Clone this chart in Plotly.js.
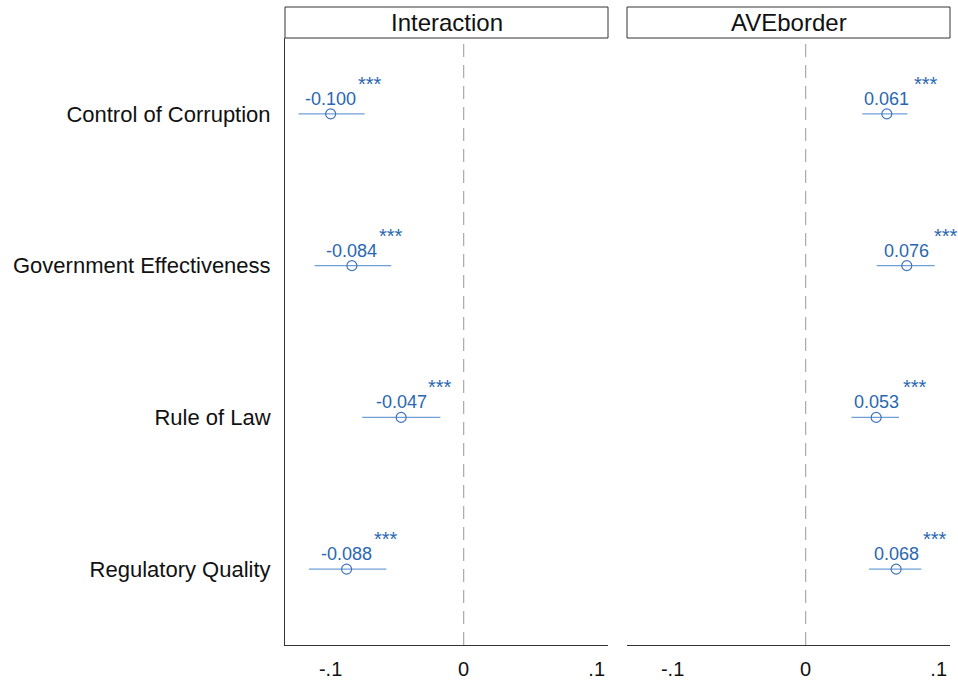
<!DOCTYPE html>
<html>
<head>
<meta charset="utf-8">
<script src="https://cdn.plot.ly/plotly-3.0.1.min.js"></script>
<style>html,body{margin:0;padding:0;background:#fff;}#chart{width:958px;height:681px;}</style>
</head>
<body>
<div id="chart"></div>
<script>
// Data
const categories = ["Control of Corruption", "Government Effectiveness", "Rule of Law", "Regulatory Quality"];
const panels = ["Interaction", "AVEborder"];
const interCoef = [-0.100, -0.084, -0.047, -0.088];
const interLo = [-0.1241, -0.1120, -0.0762, -0.1163];
const interHi = [-0.0744, -0.0544, -0.0175, -0.0581];
const aveCoef = [0.061, 0.076, 0.053, 0.068];
const aveLo = [0.0426, 0.0534, 0.0344, 0.0476];
const aveHi = [0.0765, 0.0970, 0.0702, 0.0870];
const stars = ["***", "***", "***", "***"];
const xTickVals = [-0.1, 0, 0.1];
const xTickText = ["-.1", "0", ".1"];

const W = 958, H = 681;
const FONT = "Liberation Sans, Arial, Helvetica, sans-serif";
const textBlue = "#2a67b1";
const lineBlue = "#6f9fd6";
const markBlue = "#3d74bd";
const yIdx = categories.map((c, i) => i);

function trace(coef, lo, hi, xa) {
  return {
    type: "scatter", mode: "markers",
    x: coef, y: yIdx, xaxis: xa, yaxis: "y",
    marker: {symbol: "circle-open", size: 10, color: markBlue, line: {width: 1.2, color: markBlue}},
    error_x: {type: "data", symmetric: false,
      array: hi.map((h, i) => h - coef[i]),
      arrayminus: lo.map((l, i) => coef[i] - l),
      width: 0, thickness: 1.3, color: lineBlue},
    hoverinfo: "skip", showlegend: false, cliponaxis: false
  };
}

const data = [trace(interCoef, interLo, interHi, "x"), trace(aveCoef, aveLo, aveHi, "x2")];

const annotations = [];
function addLabels(coef, xref) {
  coef.forEach((v, i) => {
    const txt = (v < 0 ? "-" : "") + Math.abs(v).toFixed(3);
    annotations.push({x: v, y: i, xref: xref, yref: "y", text: txt, showarrow: false,
      yshift: 15, font: {family: FONT, size: 18, color: textBlue}});
    annotations.push({x: v, y: i, xref: xref, yref: "y", text: stars[i], showarrow: false,
      xshift: 39, yshift: 30, font: {family: FONT, size: 20, color: textBlue}});
  });
}
addLabels(interCoef, "x");
addLabels(aveCoef, "x2");

const dom1 = [285 / W, 608 / W];
const dom2 = [627 / W, 950 / W];
const yTop = 1 - 38 / H, yBot = 1 - 645 / H;
const hTop = 1 - 7 / H;

const shapes = [];
[dom1, dom2].forEach((d, k) => {
  shapes.push({type: "rect", xref: "paper", yref: "paper", x0: d[0], x1: d[1], y0: yTop, y1: hTop,
    line: {color: "#333", width: 1}, fillcolor: "#fff"});
  annotations.push({xref: "paper", yref: "paper", x: (d[0] + d[1]) / 2, y: (yTop + hTop) / 2,
    text: panels[k], showarrow: false, xanchor: "center", yanchor: "middle",
    font: {family: FONT, size: 24, color: "#111"}});
  shapes.push({type: "line", xref: k === 0 ? "x" : "x2", yref: "paper", x0: 0, x1: 0, y0: yBot, y1: yTop,
    line: {color: "#aaaaaa", width: 1.2, dash: "13px,8px"}, layer: "below"});
});

const xbase = {
  range: [-0.1343, 0.1085], tickvals: xTickVals, ticktext: xTickText,
  showgrid: false, zeroline: false, showline: true, linecolor: "#333", linewidth: 1,
  ticks: "outside", ticklen: 6, tickcolor: "rgba(0,0,0,0)",
  tickfont: {family: FONT, size: 20, color: "#111"}, anchor: "y", fixedrange: true
};

const layout = {
  width: W, height: H,
  margin: {l: 0, r: 0, t: 0, b: 0},
  paper_bgcolor: "#fff", plot_bgcolor: "#fff",
  showlegend: false,
  xaxis: Object.assign({}, xbase, {domain: dom1}),
  xaxis2: Object.assign({}, xbase, {domain: dom2}),
  yaxis: {
    domain: [yBot, yTop], range: [3.5, -0.5], anchor: "x",
    tickvals: yIdx, ticktext: categories,
    showgrid: false, zeroline: false, showline: true, linecolor: "#333", linewidth: 1,
    ticks: "outside", ticklen: 9, tickcolor: "rgba(0,0,0,0)",
    tickfont: {family: FONT, size: 22, color: "#111"}, fixedrange: true
  },
  shapes: shapes,
  annotations: annotations
};

Plotly.newPlot("chart", data, layout, {displayModeBar: false, staticPlot: true});
</script>
</body>
</html>
